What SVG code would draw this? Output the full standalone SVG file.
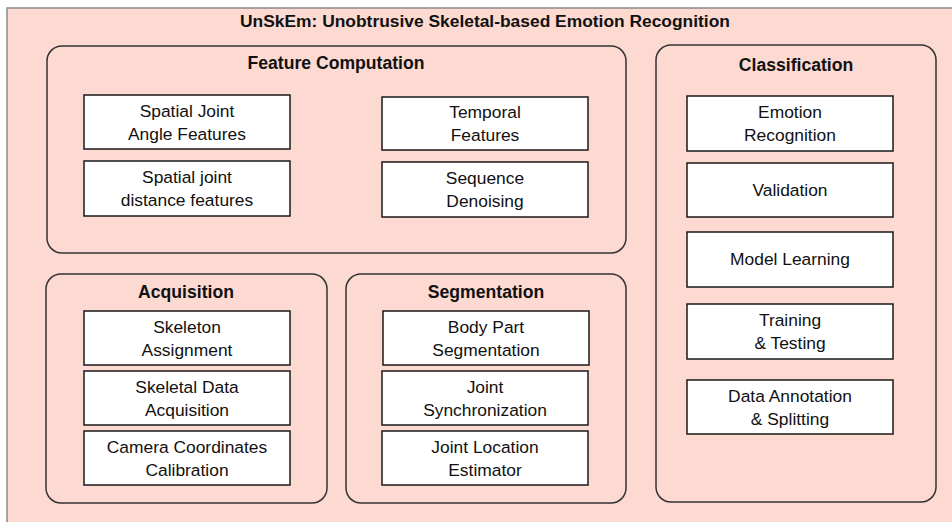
<svg xmlns="http://www.w3.org/2000/svg" width="952" height="522" viewBox="0 0 952 522">
  <style>
    .bg { fill: #ffffff; }
    .frame { fill: #fcdad2; stroke: #8a8a8a; stroke-width: 1.5; }
    .group { fill: #fcdad2; stroke: #333333; stroke-width: 1.5; }
    .box { fill: #ffffff; stroke: #1a1a1a; stroke-width: 1.5; }
    text { font-family: "Liberation Sans", Arial, sans-serif; fill: #111111; text-anchor: middle; }
    .title { font-size: 17.4px; font-weight: bold; }
    .head { font-size: 17.6px; font-weight: bold; }
    .label { font-size: 17.4px; }
  </style>

  <rect class="bg" x="0" y="0" width="952" height="522"/>

  <!-- outer frame with system title -->
  <g id="system">
    <rect class="frame" x="7" y="8" width="962" height="522"/>
    <text class="title" x="485" y="27">UnSkEm: Unobtrusive Skeletal-based Emotion Recognition</text>
  </g>

  <!-- Feature Computation module -->
  <g id="feature-computation">
    <rect class="group" x="47" y="46" width="579" height="207" rx="15"/>
    <text class="head" x="336" y="69">Feature Computation</text>
  </g>
  <g id="spatial-angle">
    <rect class="box" x="84" y="95" width="206" height="54"/>
    <text class="label" x="187" y="117">Spatial Joint</text>
    <text class="label" x="187" y="140">Angle Features</text>
  </g>
  <g id="spatial-distance">
    <rect class="box" x="84" y="161" width="206" height="55"/>
    <text class="label" x="187" y="183">Spatial joint</text>
    <text class="label" x="187" y="206">distance features</text>
  </g>
  <g id="temporal">
    <rect class="box" x="382" y="97" width="206" height="53"/>
    <text class="label" x="485" y="118">Temporal</text>
    <text class="label" x="485" y="141">Features</text>
  </g>
  <g id="denoising">
    <rect class="box" x="382" y="162" width="206" height="55"/>
    <text class="label" x="485" y="184">Sequence</text>
    <text class="label" x="485" y="207">Denoising</text>
  </g>

  <!-- Classification module -->
  <g id="classification">
    <rect class="group" x="656" y="45" width="280" height="457" rx="15"/>
    <text class="head" x="796" y="71">Classification</text>
  </g>
  <g id="emotion-recognition">
    <rect class="box" x="687" y="96" width="206" height="55"/>
    <text class="label" x="790" y="118">Emotion</text>
    <text class="label" x="790" y="141">Recognition</text>
  </g>
  <g id="validation">
    <rect class="box" x="687" y="163" width="206" height="54"/>
    <text class="label" x="790" y="196">Validation</text>
  </g>
  <g id="model-learning">
    <rect class="box" x="687" y="232" width="206" height="55"/>
    <text class="label" x="790" y="265">Model Learning</text>
  </g>
  <g id="training-testing">
    <rect class="box" x="687" y="304" width="206" height="55"/>
    <text class="label" x="790" y="326">Training</text>
    <text class="label" x="790" y="349">&amp; Testing</text>
  </g>
  <g id="annotation-splitting">
    <rect class="box" x="687" y="380" width="206" height="54"/>
    <text class="label" x="790" y="402">Data Annotation</text>
    <text class="label" x="790" y="425">&amp; Splitting</text>
  </g>

  <!-- Acquisition module -->
  <g id="acquisition">
    <rect class="group" x="46" y="274" width="281" height="229" rx="15"/>
    <text class="head" x="186" y="298">Acquisition</text>
  </g>
  <g id="skeleton-assignment">
    <rect class="box" x="84" y="311" width="206" height="54"/>
    <text class="label" x="187" y="333">Skeleton</text>
    <text class="label" x="187" y="356">Assignment</text>
  </g>
  <g id="skeletal-data">
    <rect class="box" x="84" y="371" width="206" height="54"/>
    <text class="label" x="187" y="393">Skeletal Data</text>
    <text class="label" x="187" y="416">Acquisition</text>
  </g>
  <g id="camera-calibration">
    <rect class="box" x="84" y="431" width="206" height="54"/>
    <text class="label" x="187" y="453">Camera Coordinates</text>
    <text class="label" x="187" y="476">Calibration</text>
  </g>

  <!-- Segmentation module -->
  <g id="segmentation">
    <rect class="group" x="346" y="274" width="280" height="229" rx="15"/>
    <text class="head" x="486" y="298">Segmentation</text>
  </g>
  <g id="body-part">
    <rect class="box" x="383" y="311" width="206" height="54"/>
    <text class="label" x="486" y="333">Body Part</text>
    <text class="label" x="486" y="356">Segmentation</text>
  </g>
  <g id="joint-sync">
    <rect class="box" x="382" y="371" width="206" height="54"/>
    <text class="label" x="485" y="393">Joint</text>
    <text class="label" x="485" y="416">Synchronization</text>
  </g>
  <g id="joint-location">
    <rect class="box" x="382" y="431" width="206" height="54"/>
    <text class="label" x="485" y="453">Joint Location</text>
    <text class="label" x="485" y="476">Estimator</text>
  </g>

  <!-- no connectors between modules -->
  <g id="connectors"/>
</svg>
